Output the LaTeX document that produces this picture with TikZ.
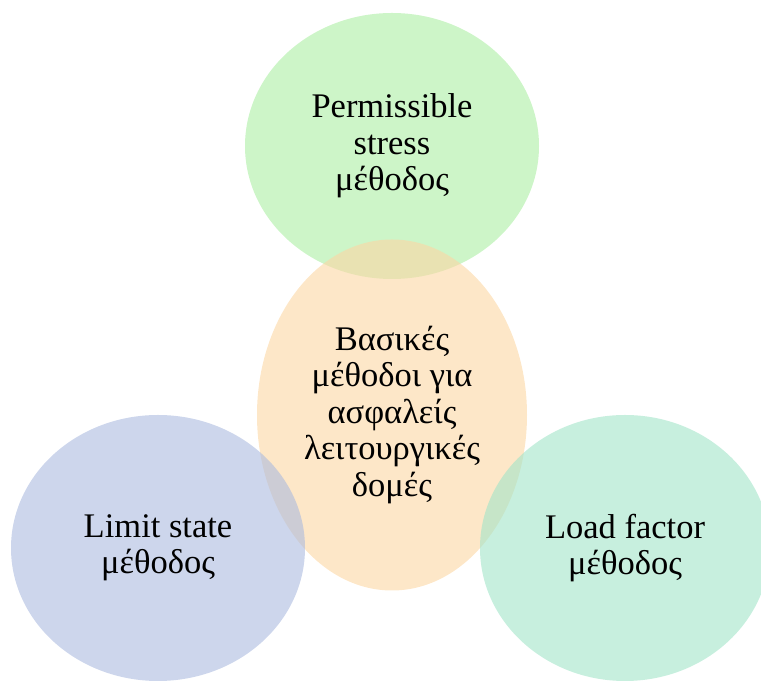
\documentclass[tikz,border=0pt]{standalone}
\usepackage{fontspec}
\setmainfont{Liberation Serif}
\usetikzlibrary{shapes.geometric}
\definecolor{topgreen}{RGB}{172,238,163}
\definecolor{midorange}{RGB}{252,215,163}
\definecolor{leftblue}{RGB}{172,187,223}
\definecolor{rightteal}{RGB}{162,228,200}
\begin{document}
\begin{tikzpicture}[x=1pt,y=1pt,
	blob/.style={ellipse, draw=none, fill opacity=0.6, text opacity=1, inner sep=0pt,
		align=center, font=\fontsize{34.5}{36.5}\selectfont}]
			\useasboundingbox (0,0) rectangle (761,682);
			\node[blob, fill=topgreen, minimum width=294, minimum height=266] (perm) at (392,536) {Permissible\\stress\\μέθοδος};
			\node[blob, fill=midorange, minimum width=270, minimum height=351] (basic) at (392,267) {Βασικές\\μέθοδοι για\\ασφαλείς\\λειτουργικές\\δομές};
			\node[blob, fill=leftblue, minimum width=294, minimum height=266] (limit) at (158,134) {Limit state\\μέθοδος};
			\node[blob, fill=rightteal, minimum width=290, minimum height=266] (load) at (625,134) {Load factor\\μέθοδος};
		\end{tikzpicture}
\end{document}
